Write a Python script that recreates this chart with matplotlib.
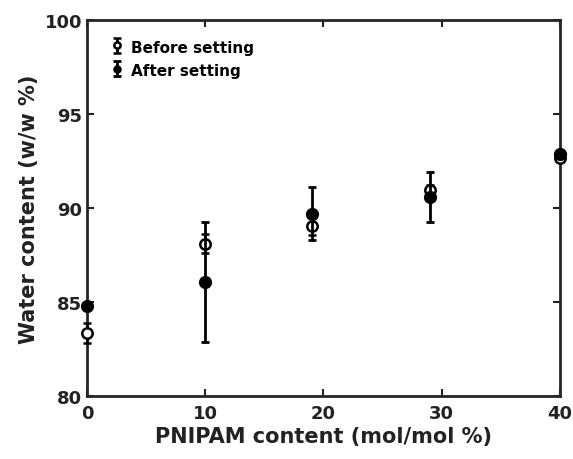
import numpy as np
import matplotlib.pyplot as plt

plt.rcParams['font.family'] = 'DejaVu Sans'
plt.rcParams['font.weight'] = 'bold'

x = [0, 10, 19, 29, 40]
before = [83.35, 88.1, 89.05, 90.95, 92.65]
before_err = [0.55, 0.5, 0.5, 0.3, 0.15]
after = [84.8, 86.05, 89.7, 90.6, 92.9]
after_err = [0.1, 3.2, 1.4, 1.33, 0.1]

fig = plt.figure(figsize=(5.73, 4.60), dpi=100)
ax = fig.add_axes([0.152, 0.137, 0.825, 0.817])

ax.errorbar(x, before, yerr=before_err, fmt='o', color='black', mfc='white',
            mec='black', mew=1.8, ms=7.5, elinewidth=2, capsize=3, capthick=2,
            label='Before setting', clip_on=False, zorder=3)
ax.errorbar(x, after, yerr=after_err, fmt='o', color='black', mfc='black',
            mec='black', ms=8.5, elinewidth=2, capsize=3, capthick=2,
            label='After setting', clip_on=False, zorder=4)

ax.set_xlim(0, 40)
ax.set_ylim(80, 100)
ax.set_xticks([0, 10, 20, 30, 40])
ax.set_yticks([80, 85, 90, 95, 100])
ax.tick_params(direction='in', top=True, right=True, length=5, width=1.5,
               labelsize=13, colors='#222222')
ax.tick_params(axis='x', pad=6)
for s in ax.spines.values():
    s.set_linewidth(2)
    s.set_color('#262626')

ax.set_xlabel('PNIPAM content (mol/mol %)', fontsize=15, fontweight='bold',
              color='#222222', labelpad=3)
ax.set_ylabel('Water content (w/w %)', fontsize=15, fontweight='bold',
              color='#222222', labelpad=4)

leg = ax.legend(loc='upper left', bbox_to_anchor=(0.015, 1.0), frameon=False,
                fontsize=11, handlelength=0.6, handleheight=1.3,
                handletextpad=0.6, markerscale=0.6, borderaxespad=0.9,
                labelspacing=0.45, borderpad=0.3)
for t in leg.get_texts():
    t.set_fontweight('bold')

fig.savefig('out.png', dpi=100)
